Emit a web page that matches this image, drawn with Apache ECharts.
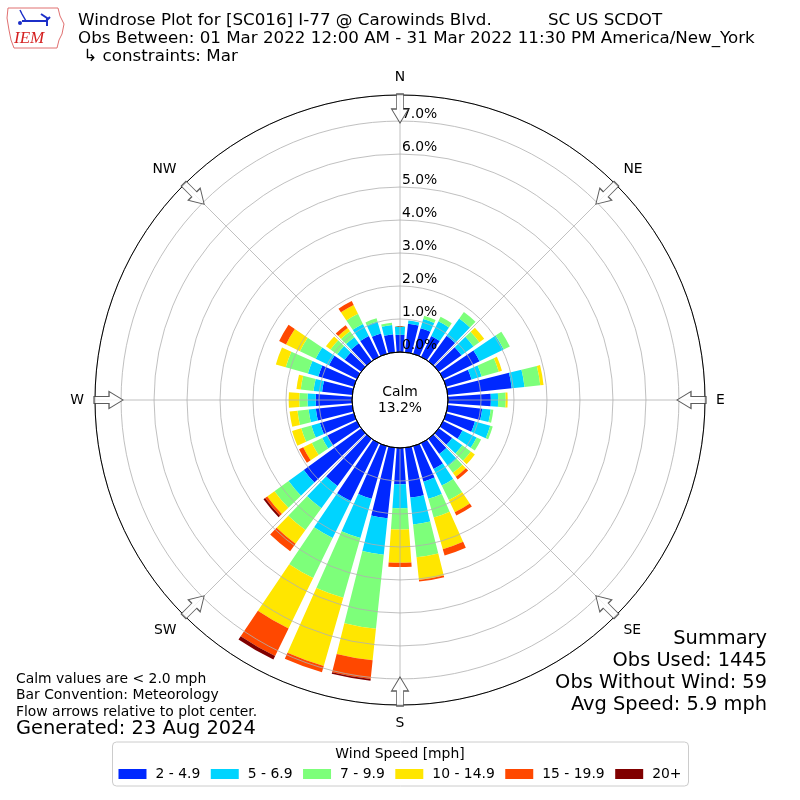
<!DOCTYPE html>
<html>
<head>
<meta charset="utf-8">
<style>
    body { margin: 0; background-color: #fff; }
    #main { width: 800px; height: 800px; }
</style>
<script src="https://cdn.jsdelivr.net/npm/echarts@6.0.0/dist/echarts.min.js"></script>
</head>
<body>
<div id="main"></div>
<script type="text/javascript">
// direction bins (degrees, 10 deg wide, centred on the value)
var directions = ['0', '10', '20', '30', '40', '50', '60', '70', '80', '90', '100', '110',
    '120', '130', '140', '150', '160', '170', '180', '190', '200', '210', '220', '230',
    '240', '250', '260', '270', '280', '290', '300', '310', '320', '330', '340', '350'];

// frequency [%] per direction for each speed bin
var speed2to5 = [0.52, 0.87, 0.81, 0.70, 0.95, 0.85, 1.23, 0.80, 1.95, 1.30, 1.05, 0.91,
    0.65, 0.50, 0.57, 0.87, 1.12, 1.52, 1.10, 2.15, 1.66, 1.95, 1.77, 2.15,
    1.00, 1.07, 1.11, 1.10, 0.92, 1.12, 0.94, 0.62, 0.67, 0.70, 0.64, 0.55];
var speed5to7 = [0.25, 0.10, 0.29, 0.50, 0.65, 0.45, 0.81, 0.32, 0.39, 0.22, 0.26, 0.48,
    0.48, 0.38, 0.45, 0.56, 0.54, 0.82, 0.73, 1.11, 1.24, 1.25, 0.83, 0.57,
    0.17, 0.27, 0.22, 0.25, 0.26, 0.33, 0.45, 0.28, 0.23, 0.41, 0.38, 0.28];
var speed7to10 = [0, 0, 0.10, 0.15, 0.24, 0.22, 0.21, 0.54, 0.48, 0.23, 0.08, 0.08,
    0.15, 0.32, 0.25, 0.49, 0.59, 1.00, 0.64, 2.26, 1.88, 1.35, 0.82, 0.53,
    0.35, 0.32, 0.34, 0.25, 0.39, 0.70, 0.53, 0.25, 0.22, 0.34, 0.10, 0.07];
var speed10to15 = [0, 0, 0, 0, 0, 0.18, 0, 0.10, 0.10, 0.06, 0, 0,
    0, 0.15, 0.15, 0.41, 1.00, 0.69, 1.01, 0.96, 2.15, 1.70, 0.51, 0.27,
    0.29, 0.29, 0.24, 0.32, 0.13, 0.31, 0.47, 0.17, 0.12, 0.30, 0, 0];
var speed15to20 = [0, 0, 0, 0, 0, 0, 0, 0, 0, 0, 0, 0,
    0, 0, 0.10, 0.11, 0.20, 0.05, 0.13, 0.57, 0.20, 0.93, 0.28, 0.08,
    0.14, 0, 0, 0, 0, 0, 0.23, 0, 0.11, 0.13, 0, 0];
var speed20up = [0, 0, 0, 0, 0, 0, 0, 0, 0, 0, 0, 0,
    0, 0, 0, 0, 0, 0, 0, 0.05, 0, 0.12, 0, 0.06,
    0, 0, 0, 0, 0, 0, 0, 0, 0, 0, 0, 0];

var speedBins = ['2 - 4.9', '5 - 6.9', '7 - 9.9', '10 - 14.9', '15 - 19.9', '20+'];
var speedData = [speed2to5, speed5to7, speed7to10, speed10to15, speed15to20, speed20up];
var speedColors = ['#0028ff', '#00d4ff', '#7dff7a', '#ffe600', '#ff4800', '#800000'];

var compassNames = ['N', 'NE', 'E', 'SE', 'S', 'SW', 'W', 'NW'];
var arrowAngles = [0, 45, 90, 135, 180, 225, 270, 315];

var calmPct = 13.2;
var radiusMax = 7.79;  // outer ring of the plot

var font = 'DejaVu Sans';
var myChart = echarts.init(document.getElementById('main'));

var series = [];
for (var i = 0; i < speedBins.length; i++) {
    series.push({
        name: speedBins[i],
        type: 'bar',
        coordinateSystem: 'polar',
        polarIndex: 0,
        stack: 'wind',
        barWidth: '80%',
        itemStyle: { color: speedColors[i] },
        data: speedData[i]
    });
}

// hollow flow arrows on the outer ring, pointing to the centre
series.push({
    type: 'scatter',
    coordinateSystem: 'polar',
    polarIndex: 1,
    symbol: 'path://M8.5,0 L17,14 L12,14 L12,29 L5,29 L5,14 L0,14 Z',
    symbolSize: [17, 29],
    itemStyle: { color: '#fff', borderColor: '#333', borderWidth: 1 },
    z: 8,
    silent: true,
    data: arrowAngles.map(function (a) {
        return { value: [7.38, a], symbolRotate: 180 - a };
    })
});

function titleText() {
    return { fontSize: 16.7, fontWeight: 'normal', color: '#000', fontFamily: font };
}

var option = {
    animation: false,
    backgroundColor: '#fff',
    textStyle: { fontFamily: font },
    title: [
        { text: 'Windrose Plot for [SC016] I-77 @ Carowinds Blvd.', left: 73, top: 7, textStyle: titleText() },
        { text: 'SC US SCDOT', left: 543, top: 7, textStyle: titleText() },
        { text: 'Obs Between: 01 Mar 2022 12:00 AM - 31 Mar 2022 11:30 PM America/New_York', left: 73, top: 25,
          textStyle: titleText() },
        { text: ' \u21b3 constraints: Mar', left: 73, top: 43, textStyle: titleText() },
        { text: 'Wind Speed [mph]', left: 'center', top: 742,
          textStyle: { fontSize: 13.9, fontWeight: 'normal', color: '#000', fontFamily: font } }
    ],
    legend: {
        data: speedBins,
        left: 'center',
        top: 742,
        padding: [25, 7, 5, 6],
        icon: 'rect',
        itemWidth: 28,
        itemHeight: 10,
        itemGap: 10.5,
        borderColor: '#ccc',
        borderWidth: 1,
        borderRadius: 4,
        textStyle: { fontSize: 13.9, color: '#000', fontFamily: font, padding: [0, 0, 0, 4] }
    },
    polar: [
        { center: [400, 400], radius: [48, 305] },
        { center: [400, 400], radius: [48, 305] }
    ],
    angleAxis: [
        {
            polarIndex: 0,
            type: 'category',
            data: directions,
            startAngle: 95,
            clockwise: true,
            boundaryGap: true,
            axisLine: { show: true, lineStyle: { color: '#000', width: 1 } },
            axisTick: { show: false },
            axisLabel: { show: false },
            splitLine: { show: false },
            z: 6
        },
        {
            polarIndex: 1,
            type: 'value',
            min: 0,
            max: 360,
            interval: 45,
            startAngle: 90,
            clockwise: true,
            axisLine: { show: false },
            axisTick: { show: false },
            axisLabel: {
                show: true,
                margin: 11,
                fontSize: 13.9,
                color: '#000',
                fontFamily: font,
                formatter: function (v) {
                    return v >= 360 ? '' : compassNames[Math.round(v / 45)];
                }
            },
            splitLine: { show: true, lineStyle: { color: '#b0b0b0', width: 0.8 } },
            z: 4
        }
    ],
    radiusAxis: [
        { polarIndex: 0, type: 'value', min: 0, max: radiusMax, show: false },
        {
            polarIndex: 1,
            type: 'value',
            min: 0,
            max: radiusMax,
            interval: 1,
            axisLine: { show: false },
            axisTick: { show: false },
            axisLabel: {
                show: true,
                margin: -2,
                align: 'left',
                verticalAlign: 'bottom',
                fontSize: 13.9,
                color: '#000',
                fontFamily: font,
                formatter: function (v) {
                    return Math.abs(v - Math.round(v)) < 1e-6 ? v.toFixed(1) + '%' : '';
                }
            },
            splitLine: { show: true, lineStyle: { color: '#b0b0b0', width: 0.8 } },
            z: 4
        }
    ],
    graphic: [
        // calm circle
        { type: 'circle', shape: { cx: 400, cy: 400, r: 48 }, z: 10,
          style: { fill: 'none', stroke: '#000', lineWidth: 1 } },
        { type: 'text', x: 400, y: 400, z: 10,
          style: { text: 'Calm\n' + calmPct.toFixed(1) + '%', fontSize: 13.9, fontFamily: font,
                   fill: '#000', align: 'center', verticalAlign: 'middle', lineHeight: 16 } },
        // notes
        { type: 'text', x: 16, y: 671,
          style: { text: 'Calm values are < 2.0 mph\nBar Convention: Meteorology\nFlow arrows relative to plot center.',
                   fontSize: 13.9, fontFamily: font, fill: '#000', lineHeight: 16.5 } },
        { type: 'text', x: 16, y: 719,
          style: { text: 'Generated: 23 Aug 2024', fontSize: 19.4, fontFamily: font, fill: '#000' } },
        { type: 'text', x: 767, y: 628,
          style: { text: 'Summary\nObs Used: 1445\nObs Without Wind: 59\nAvg Speed: 5.9 mph',
                   fontSize: 19.4, fontFamily: font, fill: '#000', align: 'right', lineHeight: 22 } },
        // IEM logo
        { type: 'polygon', z: 1,
          shape: { points: [[8, 8], [58, 8], [60, 16], [64, 24], [62, 34], [59, 40], [57, 48], [14, 48], [11, 40], [9, 30], [7, 18]] },
          style: { fill: '#fff', stroke: '#e07070', lineWidth: 1 } },
        { type: 'polyline', z: 2, shape: { points: [[22, 21], [46, 21], [50, 17]] },
          style: { stroke: '#1c2fc8', lineWidth: 2, fill: null } },
        { type: 'polyline', z: 2, shape: { points: [[20, 10], [22, 14], [26, 21]] },
          style: { stroke: '#1c2fc8', lineWidth: 1.5, fill: null } },
        { type: 'polyline', z: 2, shape: { points: [[41, 14], [47, 18], [47, 26]] },
          style: { stroke: '#1c2fc8', lineWidth: 2, fill: null } },
        { type: 'circle', z: 2, shape: { cx: 20, cy: 23, r: 2 }, style: { fill: '#1c2fc8' } },
        { type: 'text', x: 14, y: 30, z: 2,
          style: { text: 'IEM', fontSize: 17, fontFamily: 'Liberation Serif', fontStyle: 'italic',
                   fill: '#d42020' } }
    ],
    series: series
};

myChart.setOption(option);
</script>
</body>
</html>
